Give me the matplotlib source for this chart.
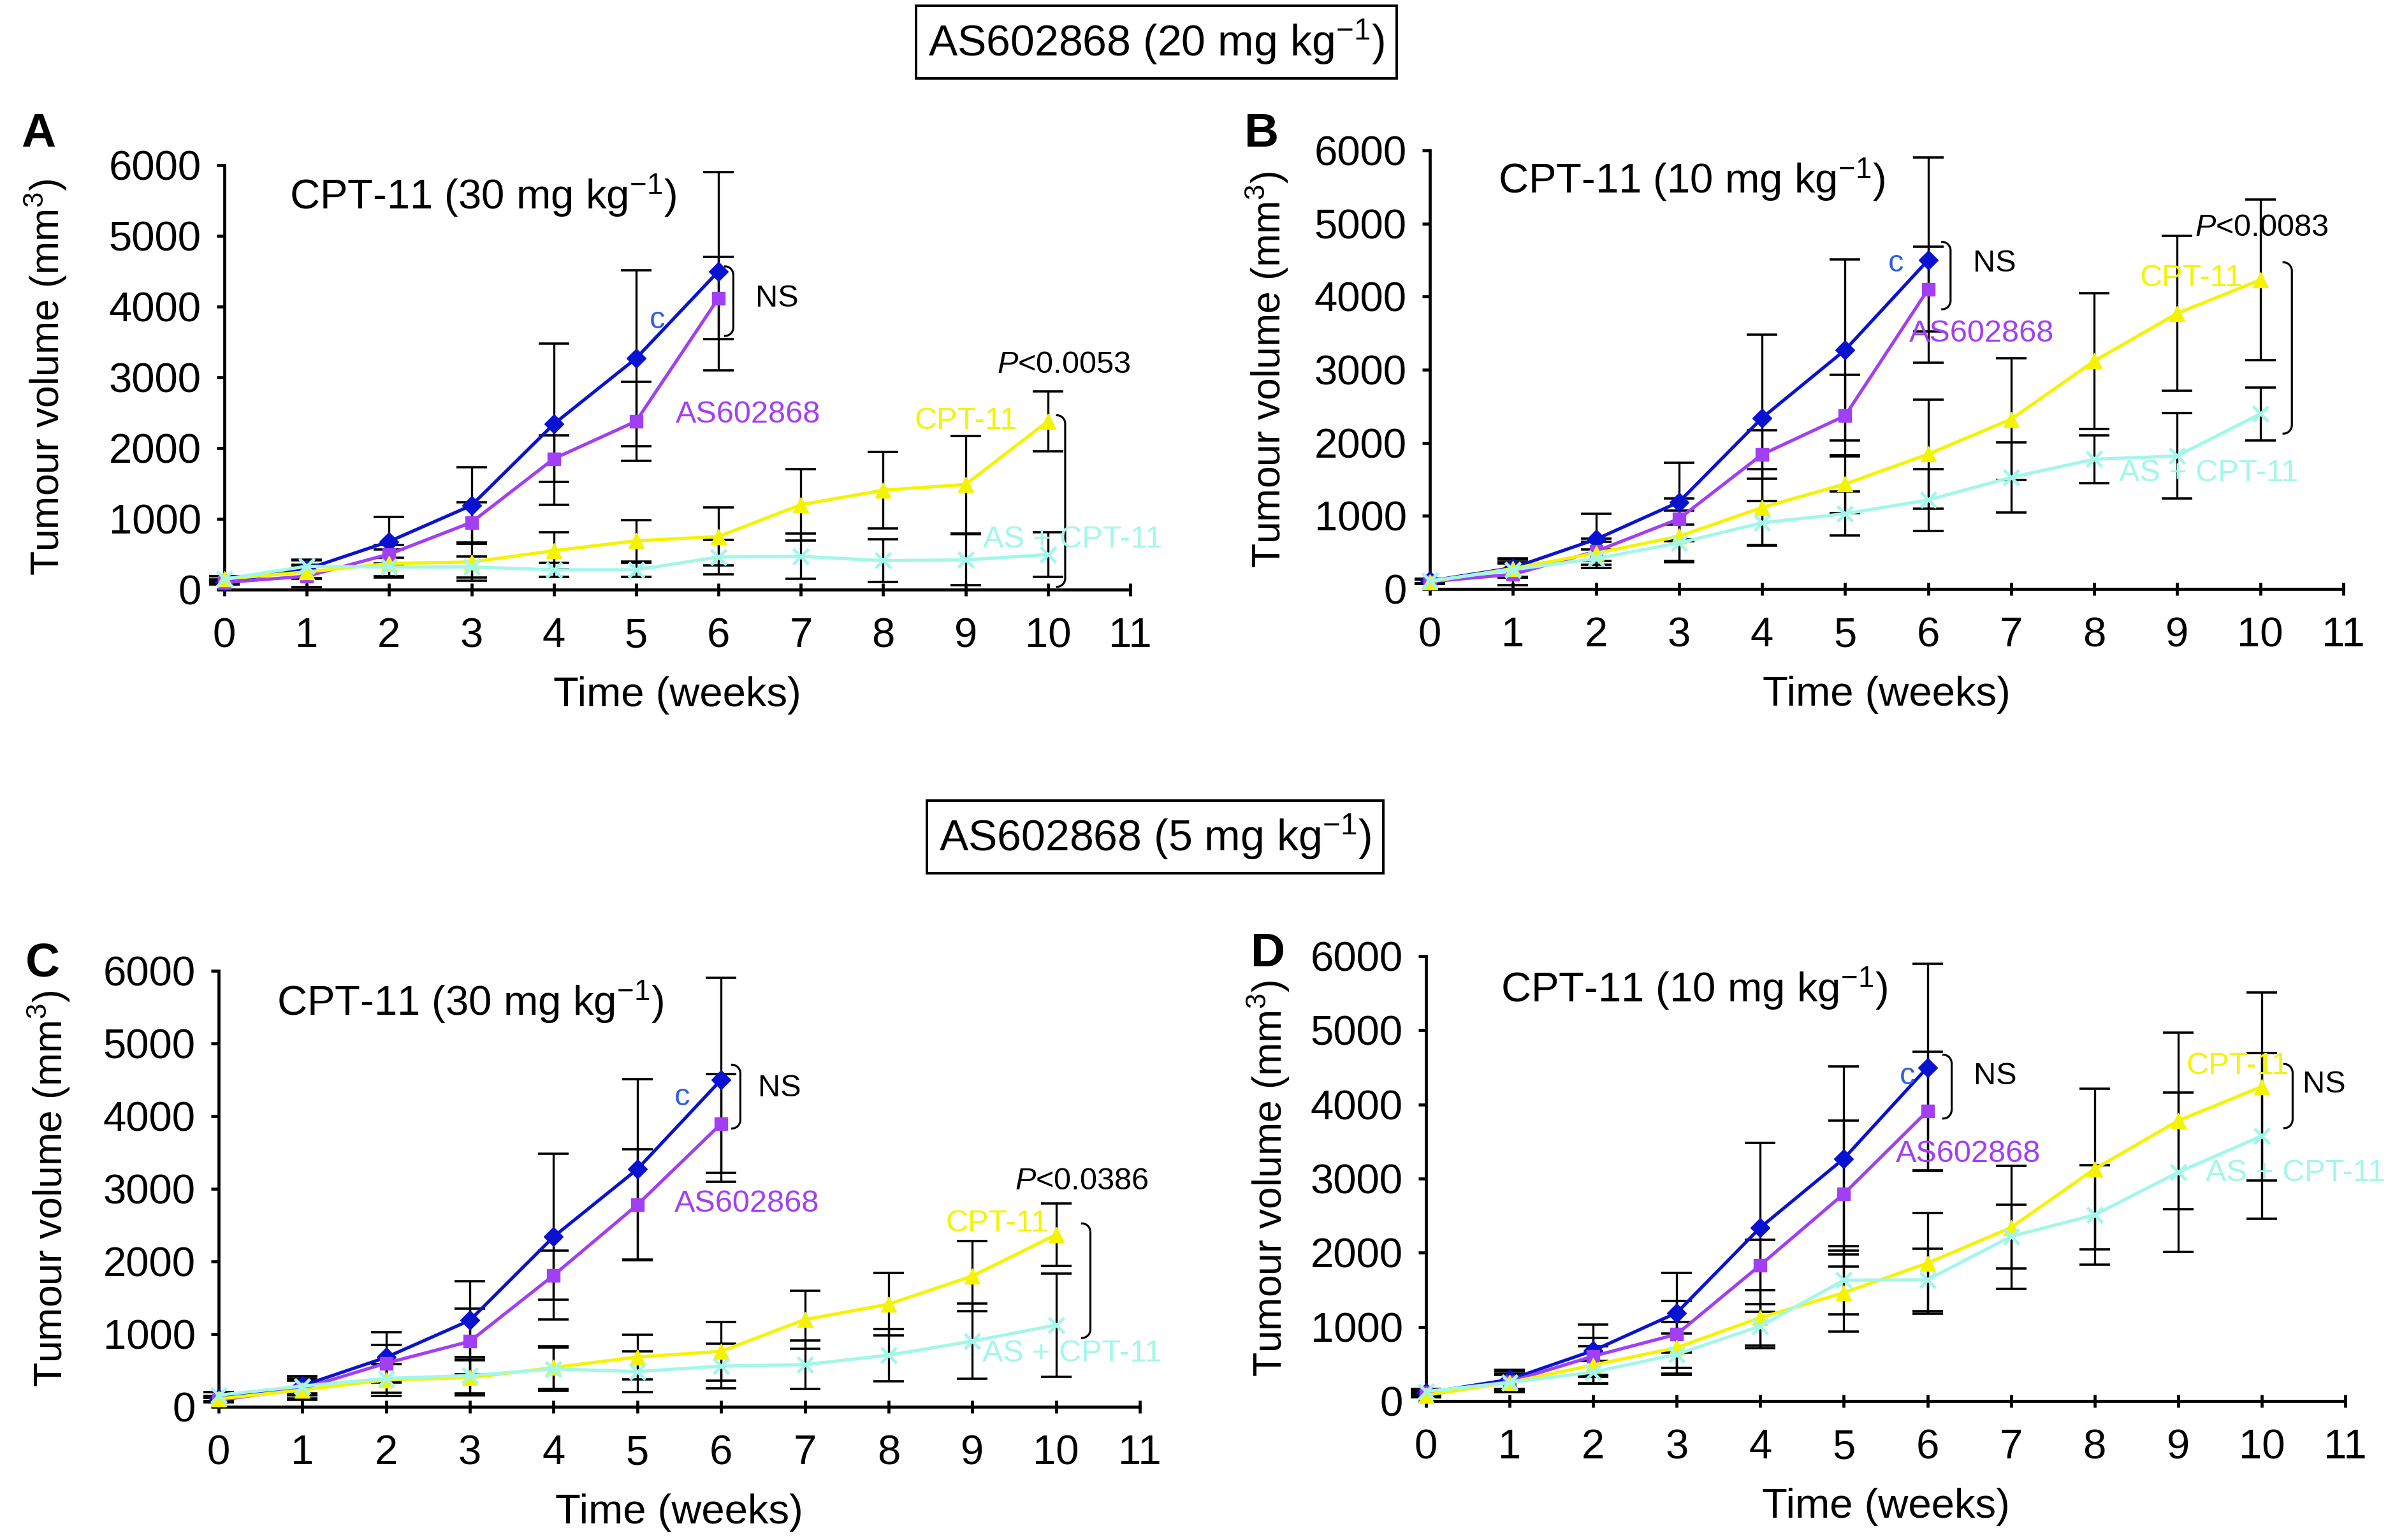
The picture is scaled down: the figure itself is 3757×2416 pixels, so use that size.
import numpy as np
import matplotlib
matplotlib.use("Agg")
import matplotlib.pyplot as plt

plt.rcParams['font.family'] = ['Liberation Sans', 'DejaVu Sans']
plt.rcParams['mathtext.fontset'] = 'custom'
plt.rcParams['mathtext.rm'] = 'Liberation Sans'
plt.rcParams['mathtext.it'] = 'Liberation Sans:italic'
plt.rcParams['mathtext.bf'] = 'Liberation Sans:bold'

# weeks
weeks_short = [0, 1, 2, 3, 4, 5, 6]
weeks_long = [0, 1, 2, 3, 4, 5, 6, 7, 8, 9, 10]

# control group (same in all panels)
control = [110, 290, 680, 1190, 2340, 3270, 4500]
control_err = [30, 130, 350, 540, 1140, 1240, 1400]

# panel A : AS602868 20 mg/kg + CPT-11 30 mg/kg
a_as = [100, 190, 500, 950, 1850, 2380, 4120]
a_as_err = [30, 150, 130, 280, 330, 560, 580]
a_cpt = [150, 250, 370, 390, 550, 690, 750, 1200, 1405, 1485, 2380]
a_cpt_err = [40, 100, 200, 260, 265, 290, 410, 505, 540, 690, 425]
a_combo = [150, 330, 320, 320, 280, 280, 460, 470, 410, 420, 495]
a_combo_err = [40, 80, 130, 150, 100, 100, 240, 320, 300, 360, 315]

# panel B : AS602868 20 mg/kg + CPT-11 10 mg/kg
b_as = [100, 200, 515, 960, 1840, 2370, 4100]
b_as_err = [30, 150, 130, 280, 330, 560, 580]
b_cpt = [100, 280, 490, 720, 1115, 1435, 1845, 2324, 3119, 3771, 4229]
b_cpt_err = [30, 120, 200, 350, 525, 400, 745, 835, 930, 1060, 1100]
b_combo = [110, 265, 415, 630, 905, 1030, 1217, 1527, 1775, 1820, 2396]
b_combo_err = [30, 100, 130, 250, 300, 300, 420, 480, 330, 585, 362]

# panel C : AS602868 5 mg/kg + CPT-11 30 mg/kg
c_as = [90, 250, 600, 900, 1810, 2780, 3895]
c_as_err = [30, 140, 250, 450, 340, 765, 680]
c_cpt = [110, 230, 370, 400, 540, 685, 763, 1200, 1412, 1800, 2368]
c_cpt_err = [40, 130, 220, 240, 290, 310, 400, 400, 430, 480, 427]
c_combo = [160, 285, 390, 430, 520, 485, 560, 580, 710, 903, 1125]
c_combo_err = [40, 100, 200, 250, 300, 280, 305, 330, 360, 515, 712]

# panel D : AS602868 5 mg/kg + CPT-11 10 mg/kg
d_as = [110, 260, 605, 900, 1833, 2795, 3910]
d_as_err = [30, 140, 250, 450, 340, 985, 800]
d_cpt = [80, 250, 485, 720, 1125, 1460, 1860, 2340, 3130, 3780, 4240]
d_cpt_err = [30, 120, 250, 350, 375, 520, 680, 830, 1080, 1190, 1270]
d_combo = [130, 250, 390, 630, 1010, 1630, 1635, 2220, 2510, 3085, 3575]
d_combo_err = [30, 100, 150, 280, 300, 460, 420, 430, 670, 1075, 1120]

BLUE = '#0a12d2'
PURPLE = '#a23ff4'
YELLOW = '#f4f400'
CYAN = '#a2f7ea'
C_LABEL = '#2f5fe8'


def bracket(ax, x, y_lo, y_hi, w=0.1, h=120):
    t = np.linspace(0, np.pi / 2, 20)
    top_x = x - w + w * np.sin(t)
    top_y = y_hi - h + h * np.cos(t)
    bot_x = x - w + w * np.cos(t)
    bot_y = y_lo + h - h * np.sin(t)
    xs = np.concatenate([top_x, bot_x])
    ys = np.concatenate([top_y, bot_y])
    ax.plot(xs, ys, color='black', lw=2.3, zorder=4, clip_on=False)


def draw_panel(rect, letter, letter_xy, title, title_xy, ctrl, ctrl_err,
               as_v, as_e, cpt, cpt_e, combo, combo_e, notes, brackets, ylab_x):
    ax = fig.add_axes(rect)
    series = [(weeks_short, ctrl, ctrl_err, BLUE, 'D', 15),
              (weeks_short, as_v, as_e, PURPLE, 's', 15),
              (weeks_long, cpt, cpt_e, YELLOW, '^', 17),
              (weeks_long, combo, combo_e, CYAN, 'x', 17)]
    for xs, ys, es, col, mk, ms in series:
        ax.errorbar(xs, ys, yerr=es, fmt='none', ecolor='black', elinewidth=2.4,
                    capsize=17, capthick=2.6, zorder=2, clip_on=False)
    for xs, ys, es, col, mk, ms in series:
        ax.plot(xs, ys, color=col, lw=3.7, marker=mk, ms=ms, mec=col,
                mew=3.5 if mk == 'x' else 1, zorder=3, clip_on=False)

    ax.set_xlim(0, 11)
    ax.set_ylim(0, 6000)
    ax.set_xticks(range(0, 12))
    ax.set_yticks(range(0, 7000, 1000))
    for s in ['top', 'right']:
        ax.spines[s].set_visible(False)
    for s in ['left', 'bottom']:
        ax.spines[s].set_linewidth(3.4)
    ax.tick_params(axis='y', direction='out', length=9, width=3.4, labelsize=47, pad=17)
    ax.tick_params(axis='x', direction='inout', length=14, width=3.4, labelsize=47, pad=24)
    ax.set_xlabel('Time (weeks)', fontsize=47, labelpad=24)
    ax.set_ylabel('Tumour volume (mm$^3$)', fontsize=45)
    ax.yaxis.set_label_coords(ylab_x, 0.5)

    ax.text(title_xy[0], title_xy[1], title, fontsize=47, ha='left', va='center')
    for txt, x, y, col in notes:
        ax.text(x, y, txt, fontsize=35, color=col, ha='left', va='center', zorder=5)
    for x, lo, hi in brackets:
        bracket(ax, x, lo, hi)
    fig.text(letter_xy[0], letter_xy[1], letter, fontsize=54, fontweight='bold',
             ha='center', va='center')
    return ax


fig = plt.figure(figsize=(37.57, 24.16), dpi=100)
W, H = 3757.0, 2416.0

draw_panel([352 / W, 1 - 925 / H, 1421 / W, 666 / H], 'A', (60 / W, 1 - 211 / H),
           'CPT-11 (30 mg kg$^{-1}$)', (0.79, 5560),
           control, control_err, a_as, a_as_err, a_cpt, a_cpt_err, a_combo, a_combo_err,
           [('c', 5.16, 3810, C_LABEL), ('NS', 6.45, 4112, 'black'),
            ('AS602868', 5.48, 2477, PURPLE), ('$P$<0.0053', 9.38, 3180, 'black'),
            ('CPT-11', 8.38, 2387, YELLOW), ('AS + CPT-11', 9.21, 705, CYAN)],
           [(6.18, 3586, 4568), (10.21, 40, 2464)], -0.172)

draw_panel([2243 / W, 1 - 924 / H, 1433 / W, 688 / H], 'B', (1979 / W, 1 - 211 / H),
           'CPT-11 (10 mg kg$^{-1}$)', (0.82, 5600),
           control, control_err, b_as, b_as_err, b_cpt, b_cpt_err, b_combo, b_combo_err,
           [('c', 5.52, 4456, C_LABEL), ('NS', 6.54, 4456, 'black'),
            ('AS602868', 5.77, 3497, PURPLE), ('$P$<0.0083', 9.21, 4940, 'black'),
            ('CPT-11', 8.55, 4253, YELLOW), ('AS + CPT-11', 8.3, 1584, CYAN)],
           [(6.27, 3827, 4749), (10.38, 2126, 4469)], -0.153)

draw_panel([343 / W, 1 - 2207 / H, 1445 / W, 684 / H], 'C', (67 / W, 1 - 1512 / H),
           'CPT-11 (30 mg kg$^{-1}$)', (0.69, 5570),
           control, control_err, c_as, c_as_err, c_cpt, c_cpt_err, c_combo, c_combo_err,
           [('c', 5.44, 4260, C_LABEL), ('NS', 6.44, 4380, 'black'),
            ('AS602868', 5.44, 2791, PURPLE), ('$P$<0.0386', 9.51, 3105, 'black'),
            ('CPT-11', 8.68, 2523, YELLOW), ('AS + CPT-11', 9.12, 732, CYAN)],
           [(6.23, 3830, 4707), (10.41, 947, 2523)], -0.159)

draw_panel([2237 / W, 1 - 2198 / H, 1442 / W, 698 / H], 'D', (1989 / W, 1 - 1497 / H),
           'CPT-11 (10 mg kg$^{-1}$)', (0.89, 5555),
           control, control_err, d_as, d_as_err, d_cpt, d_cpt_err, d_combo, d_combo_err,
           [('c', 5.67, 4380, C_LABEL), ('NS', 6.55, 4380, 'black'),
            ('AS602868', 5.62, 3335, PURPLE), ('CPT-11', 9.1, 4520, YELLOW),
            ('NS', 10.49, 4265, 'black'), ('AS + CPT-11', 9.33, 3070, CYAN)],
           [(6.29, 3810, 4670), (10.37, 3680, 4545)], -0.146)

# dose headers
box = dict(boxstyle='square,pad=0.28', fc='white', ec='black', lw=2.8)
fig.text(1814 / W, 1 - 66 / H, 'AS602868 (20 mg kg$^{-1}$)', fontsize=49,
         ha='center', va='center', bbox=box)
fig.text(1812 / W, 1 - 1313 / H, 'AS602868 (5 mg kg$^{-1}$)', fontsize=49,
         ha='center', va='center', bbox=box)

fig.savefig('out.png', dpi=100)
